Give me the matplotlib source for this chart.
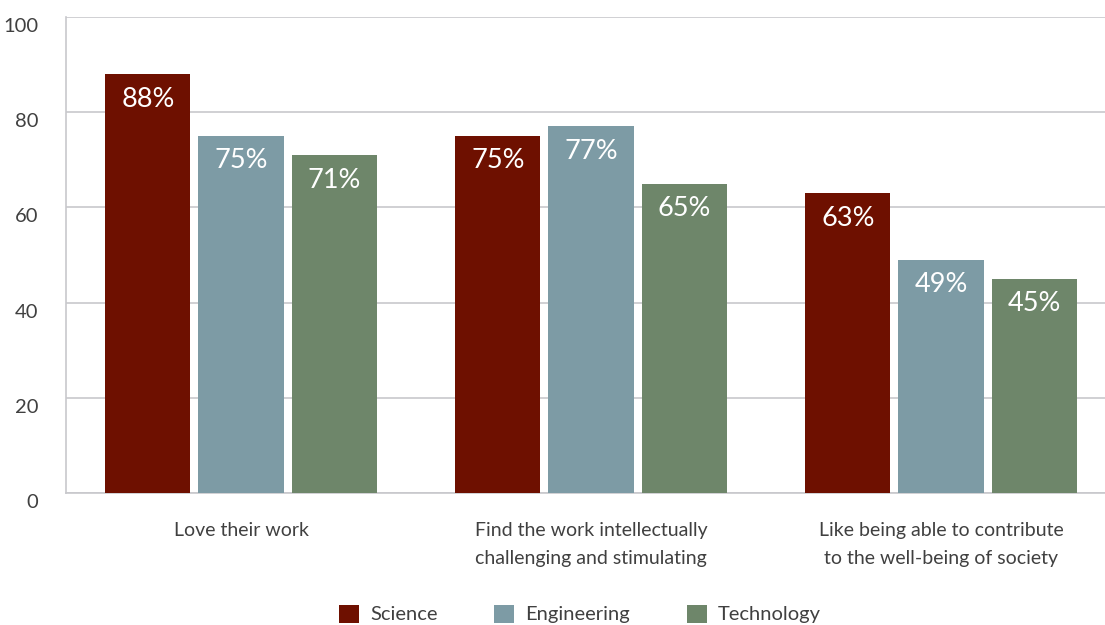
import matplotlib
matplotlib.use("Agg")
import matplotlib.pyplot as plt
import matplotlib.transforms as mtransforms
from matplotlib.patches import Patch
import numpy as np

plt.rcParams['font.family'] = ['Lato', 'DejaVu Sans']

categories = ["Love their work",
              "Find the work intellectually\nchallenging and stimulating",
              "Like being able to contribute\nto the well-being of society"]
series = ["Science", "Engineering", "Technology"]
science = [88, 75, 63]
engineering = [75, 77, 49]
technology = [71, 65, 45]
yticks = [0, 20, 40, 60, 80, 100]

colors = ["#6e1000", "#7d9ba5", "#6e866a"]
grid_color = "#c8c8cc"
text_color = "#404040"

W, H = 1105, 625
fig = plt.figure(figsize=(W / 100, H / 100), dpi=100)
ax = fig.add_axes([66 / W, 132 / H, 1050 / W, 476 / H])

x = np.arange(len(categories))
width = 0.243
offset = 0.266
for i, (vals, col) in enumerate(zip([science, engineering, technology], colors)):
    bars = ax.bar(x + (i - 1) * offset, vals, width=width, color=col, zorder=3)
    for b, v in zip(bars, vals):
        ax.annotate(f"{v}%", (b.get_x() + b.get_width() / 2, v),
                    xytext=(0, -25), textcoords="offset pixels",
                    ha="center", va="center", color="white", fontsize=19.5,
                    zorder=4)

ax.set_xlim(-0.5, 2.5)
ax.set_ylim(0, 100)
ax.set_yticks(yticks)
ax.set_xticks(x)
ax.set_xticklabels(categories, fontsize=14, color=text_color, linespacing=1.75)
ax.yaxis.grid(True, color=grid_color, linewidth=1.2, zorder=0)
ax.tick_params(axis="both", length=0)
ax.tick_params(axis="x", pad=21)
ax.tick_params(axis="y", pad=20, labelsize=14.5, labelcolor=text_color)

# y tick labels sit slightly below their gridlines
shift = mtransforms.ScaledTranslation(0, -8 / 100, fig.dpi_scale_trans)
for lbl in ax.get_yticklabels():
    lbl.set_transform(lbl.get_transform() + shift)

for side in ["top", "right"]:
    ax.spines[side].set_visible(False)
for side in ["left", "bottom"]:
    ax.spines[side].set_color(grid_color)
    ax.spines[side].set_linewidth(1.2)

handles = [Patch(facecolor=c, edgecolor="none") for c in colors]
fig.legend(handles, series, loc="center", ncol=3, frameon=False,
           bbox_to_anchor=(580 / W, (H - 614) / H), fontsize=14.5,
           labelcolor=text_color, handlelength=1.0, handleheight=1.0,
           handletextpad=0.55, columnspacing=2.8)

fig.savefig("out.png", dpi=100)
